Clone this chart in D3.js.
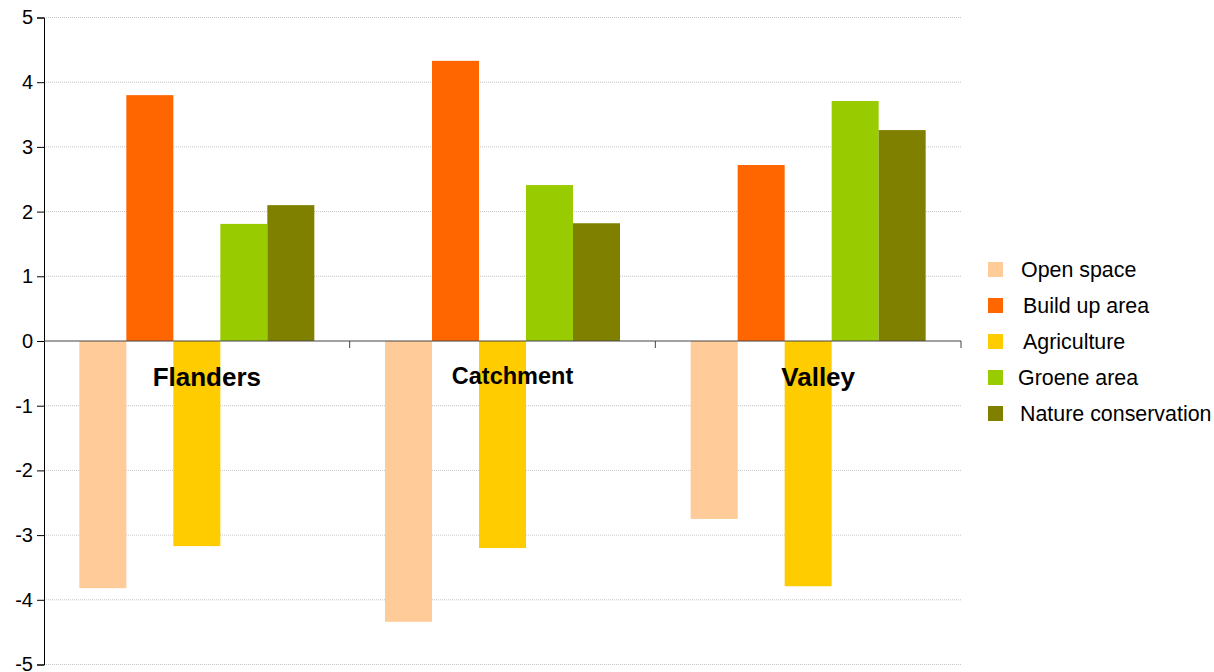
<!DOCTYPE html>
<html>
<head>
<meta charset="utf-8">
<script src="https://cdn.jsdelivr.net/npm/d3@7"></script>
<style>
  html, body { margin: 0; padding: 0; background: #fff; }
  svg { display: block; font-family: "Liberation Sans", Arial, sans-serif; }
</style>
</head>
<body>
<svg id="chart" width="1214" height="672"></svg>
<script>
const categories = ["Flanders", "Catchment", "Valley"];
const seriesNames = ["Open space", "Build up area", "Agriculture", "Groene area", "Nature conservation"];
const openSpace = [-3.82, -4.34, -2.75];
const buildUp = [3.80, 4.33, 2.72];
const agriculture = [-3.17, -3.20, -3.79];
const groene = [1.81, 2.41, 3.71];
const nature = [2.10, 1.82, 3.26];
const yTicks = [5, 4, 3, 2, 1, 0, -1, -2, -3, -4, -5];
const colors = ["#ffcc99", "#ff6600", "#ffcc00", "#99cc00", "#808000"];

const seriesValues = [openSpace, buildUp, agriculture, groene, nature];

const svg = d3.select("#chart");
const plotLeft = 44, plotRight = 961, plotTop = 17.5, plotBottom = 664.5;

const x0 = d3.scaleBand().domain(categories).range([plotLeft, plotRight]).padding(0);
const bw = x0.bandwidth();
const pad = (bw - 235) / 2;
const x1 = d3.scaleBand().domain(seriesNames).range([pad, bw - pad]).padding(0);
const y = d3.scaleLinear().domain([-5, 5]).range([plotBottom, plotTop]);

// gridlines
svg.append("g").selectAll("line")
  .data(yTicks.filter(d => d !== 0))
  .join("line")
  .attr("x1", plotLeft).attr("x2", plotRight)
  .attr("y1", d => y(d)).attr("y2", d => y(d))
  .attr("stroke", "#c6c6c6").attr("stroke-width", 1)
  .attr("stroke-dasharray", "1,1");

// bars
const data = [];
categories.forEach((c, i) => {
  seriesNames.forEach((s, j) => data.push({ c, s, v: seriesValues[j][i], color: colors[j] }));
});
svg.append("g").selectAll("rect")
  .data(data)
  .join("rect")
  .attr("x", d => x0(d.c) + x1(d.s))
  .attr("width", x1.bandwidth())
  .attr("y", d => y(Math.max(0, d.v)))
  .attr("height", d => Math.abs(y(d.v) - y(0)))
  .attr("fill", d => d.color);

// y axis
const yAxis = d3.axisLeft(y).tickValues(yTicks).tickSize(7).tickPadding(4).tickFormat(d => String(d));
const gy = svg.append("g").attr("transform", `translate(${plotLeft},0)`).call(yAxis);
gy.select(".domain").attr("stroke", "#000");
gy.selectAll(".tick line").attr("stroke", "#000");
gy.selectAll(".tick text").attr("font-size", 20).attr("fill", "#000")
  .attr("font-family", "Liberation Sans, Arial, sans-serif");

// zero axis with category ticks
const zeroY = y(0);
svg.append("line").attr("x1", plotLeft).attr("x2", plotRight)
  .attr("y1", zeroY).attr("y2", zeroY).attr("stroke", "#444").attr("stroke-width", 1);
svg.append("g").selectAll("line")
  .data(categories)
  .join("line")
  .attr("x1", d => x0(d) + bw).attr("x2", d => x0(d) + bw)
  .attr("y1", zeroY).attr("y2", zeroY + 7)
  .attr("stroke", "#444");

// category labels
const labelSizes = [26, 23.5, 26];
const labelBase = [386, 384, 386];
svg.append("g").selectAll("text")
  .data(categories)
  .join("text")
  .attr("x", d => x0(d) + bw / 2 + 10)
  .attr("y", (d, i) => labelBase[i])
  .attr("text-anchor", "middle")
  .attr("font-weight", "bold")
  .attr("font-size", (d, i) => labelSizes[i])
  .attr("fill", "#000")
  .text(d => d);

// legend
const legendTextX = [1021, 1023, 1023, 1018, 1020];
const lg = svg.append("g");
seriesNames.forEach((s, i) => {
  const cy = 269 + i * 36;
  lg.append("rect").attr("x", 988).attr("y", cy - 7).attr("width", 15).attr("height", 15).attr("fill", colors[i]);
  lg.append("text").attr("x", legendTextX[i]).attr("y", cy + 7.5)
    .attr("font-size", 21.4).attr("fill", "#000").text(s);
});
</script>
</body>
</html>
